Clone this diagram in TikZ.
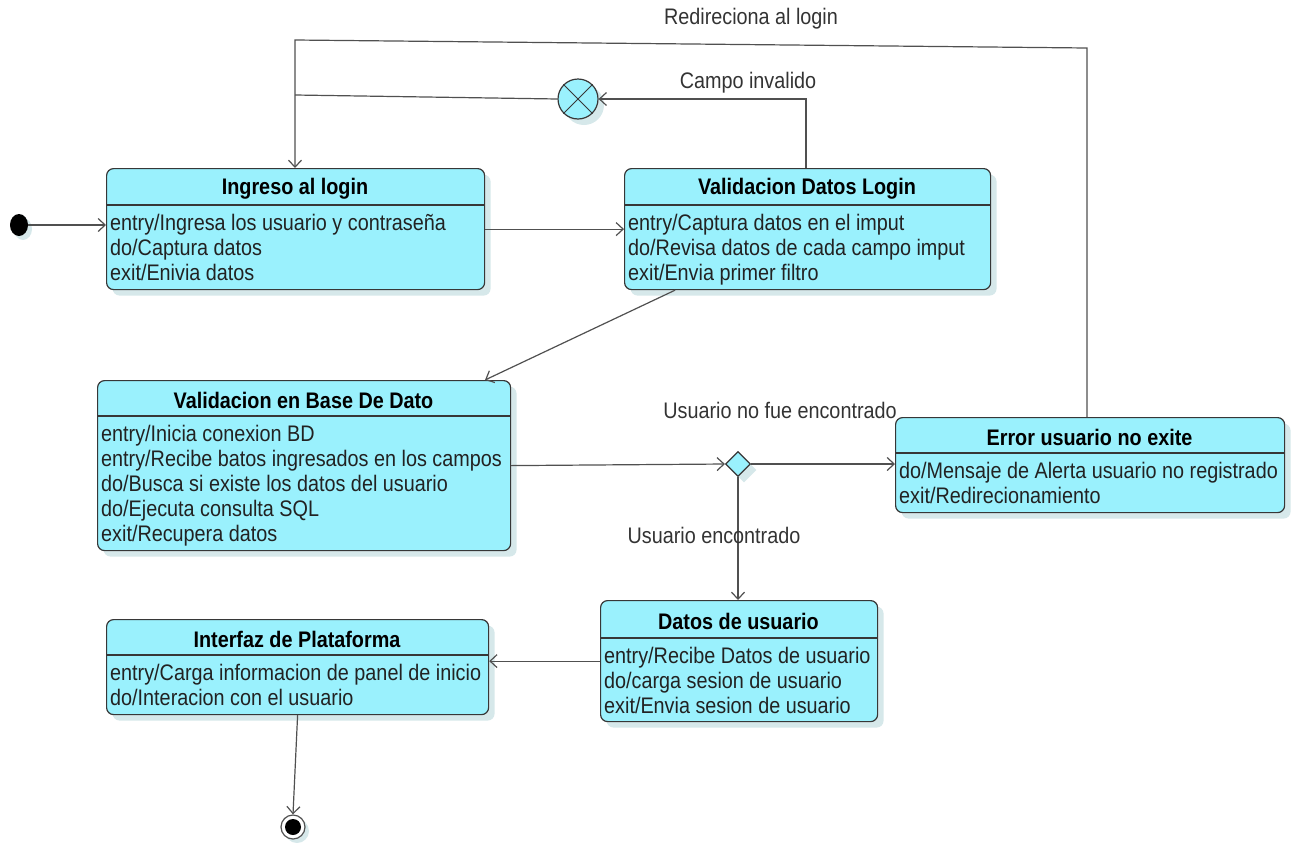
\documentclass[tikz,border=0pt]{standalone}
\usepackage{fontspec}
\setmainfont[FakeStretch=0.88]{Liberation Sans}
\usetikzlibrary{arrows.meta,shadows,shapes.geometric}

\definecolor{statefill}{RGB}{154,241,253}
\definecolor{boxline}{RGB}{55,55,55}
\definecolor{shadowcol}{RGB}{214,232,234}
\definecolor{wire}{RGB}{80,80,80}
\definecolor{bodyink}{RGB}{34,34,34}
\definecolor{labelink}{RGB}{51,51,51}

\tikzset{
  softshadow/.style={drop shadow={shadow xshift=6pt,shadow yshift=-6pt,fill=shadowcol,opacity=1}},
  statebox/.style={draw=boxline,fill=statefill,rounded corners=7pt,line width=1.2pt,inner sep=0pt,softshadow},
  titletext/.style={font=\fontsize{22.5}{25}\selectfont\bfseries,text=black,inner sep=0pt},
  bodytext/.style={font=\fontsize{22.5}{25}\selectfont,text=bodyink,align=left,inner sep=2pt},
  edgelabel/.style={font=\fontsize{22.5}{25}\selectfont,text=labelink,inner sep=0pt},
  wire/.style={draw=wire,line width=1.2pt},
  arr/.style={wire,-{Straight Barb[length=7pt,width=13pt,line width=1.2pt]}},
}

% state box: name, left, top, right, bottom, divider, title, activities
\newcommand\umlstate[8]{%
  \node[statebox,anchor=north west,minimum width={(#4-#2)*1pt},minimum height={(#5-#3)*1pt}] (#1) at (#2,#3) {};
  \draw[draw=boxline,line width=1.2pt] (#2,#6) -- (#4,#6);
  \node[titletext] (#1-title) at ({(#2+#4)/2},{(#3+#6)/2+2}) {#7};
  \node[bodytext,anchor=north west] (#1-body) at (#2+2,#6+7) {#8};
}

\begin{document}
\begin{tikzpicture}[x=1pt,y=-1pt]
\useasboundingbox (0,0) rectangle (1298,844);

% states
\umlstate{login}{106}{168}{484}{289}{205}{Ingreso al login}
  {entry/Ingresa los usuario y contraseña\\do/Captura datos\\exit/Enivia datos}
\umlstate{valid}{624}{168}{990}{289}{205}{Validacion Datos Login}
  {entry/Captura datos en el imput\\do/Revisa datos de cada campo imput\\exit/Envia primer filtro}
\umlstate{dbcheck}{97}{380}{510}{550}{416}{Validacion en Base De Dato}
  {entry/Inicia conexion BD\\entry/Recibe batos ingresados en los campos\\do/Busca si existe los datos del usuario\\do/Ejecuta consulta SQL\\exit/Recupera datos}
\umlstate{error}{895}{417}{1284}{512}{453}{Error usuario no exite}
  {do/Mensaje de Alerta usuario no registrado\\exit/Redirecionamiento}
\umlstate{userdata}{600}{600}{877}{721}{638}{Datos de usuario}
  {entry/Recibe Datos de usuario\\do/carga sesion de usuario\\exit/Envia sesion de usuario}
\umlstate{platform}{106}{619}{488}{714}{655}{Interfaz de Plataforma}
  {entry/Carga informacion de panel de inicio\\do/Interacion con el usuario}

% pseudo states
\node[ellipse,fill=black,minimum width=18pt,minimum height=22pt,inner sep=0pt,
      drop shadow={shadow xshift=4pt,shadow yshift=-4pt,fill=shadowcol,opacity=1}] (init) at (19,225) {};
\node[circle,draw=boxline,line width=1.2pt,fill=statefill,minimum size=40pt,inner sep=0pt,softshadow] (cancel) at (578,99) {};
\draw[draw=boxline,line width=0.9pt] (cancel.45) -- (cancel.225) (cancel.135) -- (cancel.-45);
\node[diamond,draw=boxline,line width=1.2pt,fill=statefill,minimum width=25pt,minimum height=25pt,inner sep=0pt,softshadow] (choice) at (738,464) {};
\node[circle,draw=wire,line width=1.2pt,fill=white,minimum size=24pt,inner sep=0pt,
      drop shadow={shadow xshift=4pt,shadow yshift=-4pt,fill=shadowcol,opacity=1}] (final) at (293,827) {};
\fill[black] (final) circle (8pt);

% bend points
\coordinate (invalidbend) at (806,99);
\coordinate (redirA) at (1087,48);
\coordinate (redirB) at (295,40);
\coordinate (cancelJoin) at (295,95);
\coordinate (validOut) at (675,0);
\coordinate (dbIn) at (485,0);

% transitions
\draw[arr] (init.east) -- (init -| login.west);
\draw[arr] (login.east) -- (valid.west);
\draw[arr] (valid.north -| invalidbend) -- (invalidbend) -- (cancel.east);
\draw[wire] (cancel.west) -- (cancelJoin);
\draw[arr] (error.north -| redirA) -- (redirA) -- (redirB) -- (redirB |- login.north);
\draw[arr] (valid.south -| validOut) -- (dbcheck.north -| dbIn);
\draw[arr] (dbcheck.east) -- (choice.west);
\draw[arr] (choice.east) -- (choice -| error.west);
\draw[arr] (choice.south) -- (choice |- userdata.north);
\draw[arr] (userdata.west) -- (userdata.west -| platform.east);
\draw[arr] (platform.south) -- (final.north);

% transition labels
\node[edgelabel] (lblRedir) at (751,19) {Redireciona al login};
\node[edgelabel] (lblInvalid) at (748,83) {Campo invalido};
\node[edgelabel] (lblNotFound) at (780,410) {Usuario no fue encontrado};
\node[edgelabel] (lblFound) at (714,535) {Usuario encontrado};
\end{tikzpicture}
\end{document}
